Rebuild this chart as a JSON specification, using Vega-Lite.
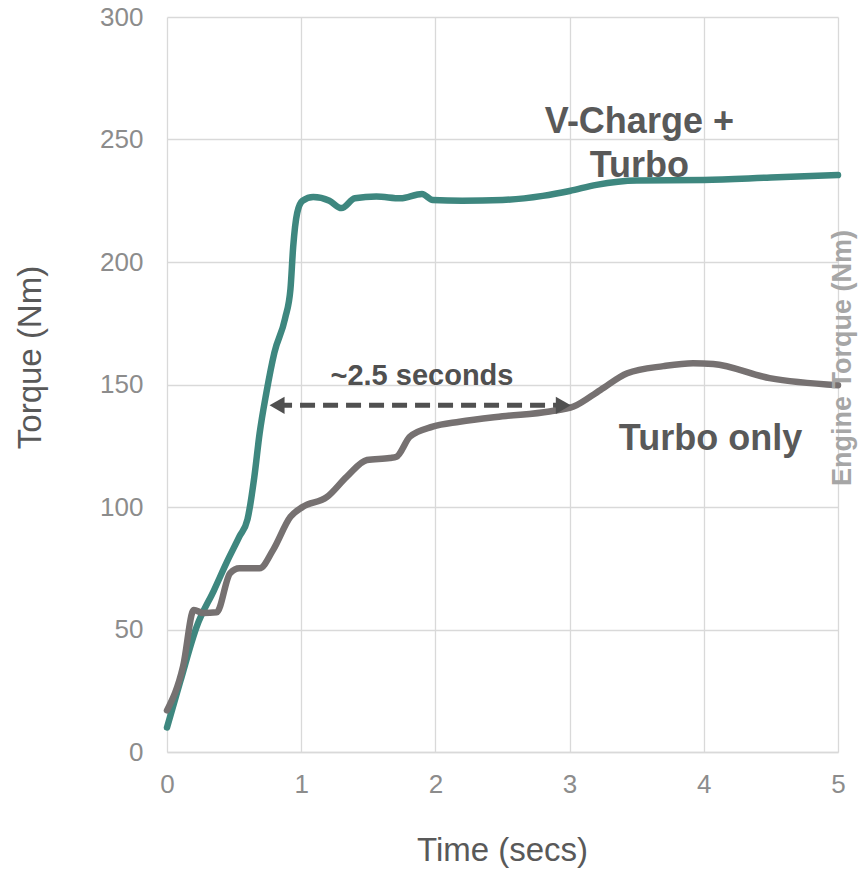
{
  "$schema": "https://vega.github.io/schema/vega-lite/v6.json",
  "width": 671,
  "height": 735,
  "autosize": {"type": "none"},
  "padding": {"left": 167, "top": 17, "right": 20, "bottom": 117},
  "config": {"view": {"stroke": null}, "font": "Liberation Sans"},
  "datasets": {
    "curves": [
      {"series": "V-Charge + Turbo", "t": 0, "v": 10},
      {"series": "V-Charge + Turbo", "t": 0.1, "v": 29},
      {"series": "V-Charge + Turbo", "t": 0.22, "v": 51},
      {"series": "V-Charge + Turbo", "t": 0.35, "v": 66},
      {"series": "V-Charge + Turbo", "t": 0.45, "v": 78},
      {"series": "V-Charge + Turbo", "t": 0.54, "v": 88},
      {"series": "V-Charge + Turbo", "t": 0.6, "v": 95},
      {"series": "V-Charge + Turbo", "t": 0.65, "v": 112},
      {"series": "V-Charge + Turbo", "t": 0.69, "v": 130},
      {"series": "V-Charge + Turbo", "t": 0.74, "v": 146.5},
      {"series": "V-Charge + Turbo", "t": 0.8, "v": 163},
      {"series": "V-Charge + Turbo", "t": 0.88, "v": 177},
      {"series": "V-Charge + Turbo", "t": 0.92, "v": 189},
      {"series": "V-Charge + Turbo", "t": 0.94, "v": 206},
      {"series": "V-Charge + Turbo", "t": 0.97, "v": 220},
      {"series": "V-Charge + Turbo", "t": 1.01, "v": 225},
      {"series": "V-Charge + Turbo", "t": 1.09, "v": 226.5},
      {"series": "V-Charge + Turbo", "t": 1.21, "v": 225},
      {"series": "V-Charge + Turbo", "t": 1.3, "v": 222},
      {"series": "V-Charge + Turbo", "t": 1.4, "v": 226},
      {"series": "V-Charge + Turbo", "t": 1.56, "v": 226.7},
      {"series": "V-Charge + Turbo", "t": 1.74, "v": 226},
      {"series": "V-Charge + Turbo", "t": 1.9, "v": 227.8},
      {"series": "V-Charge + Turbo", "t": 1.98, "v": 225.3},
      {"series": "V-Charge + Turbo", "t": 2.2, "v": 225},
      {"series": "V-Charge + Turbo", "t": 2.5, "v": 225.3},
      {"series": "V-Charge + Turbo", "t": 2.8, "v": 227},
      {"series": "V-Charge + Turbo", "t": 3.0, "v": 229},
      {"series": "V-Charge + Turbo", "t": 3.2, "v": 231.5},
      {"series": "V-Charge + Turbo", "t": 3.5, "v": 233.3},
      {"series": "V-Charge + Turbo", "t": 4.0, "v": 233.5},
      {"series": "V-Charge + Turbo", "t": 4.5, "v": 234.5},
      {"series": "V-Charge + Turbo", "t": 5.0, "v": 235.5},
      {"series": "Turbo only", "t": 0, "v": 17},
      {"series": "Turbo only", "t": 0.12, "v": 35},
      {"series": "Turbo only", "t": 0.2, "v": 58},
      {"series": "Turbo only", "t": 0.27, "v": 56.7},
      {"series": "Turbo only", "t": 0.37, "v": 57},
      {"series": "Turbo only", "t": 0.47, "v": 73},
      {"series": "Turbo only", "t": 0.54, "v": 75},
      {"series": "Turbo only", "t": 0.69, "v": 75},
      {"series": "Turbo only", "t": 0.79, "v": 82.4},
      {"series": "Turbo only", "t": 0.92, "v": 96},
      {"series": "Turbo only", "t": 1.01, "v": 100},
      {"series": "Turbo only", "t": 1.19, "v": 104},
      {"series": "Turbo only", "t": 1.34, "v": 112.4},
      {"series": "Turbo only", "t": 1.49, "v": 119.2},
      {"series": "Turbo only", "t": 1.66, "v": 120},
      {"series": "Turbo only", "t": 1.71, "v": 120.5},
      {"series": "Turbo only", "t": 1.81, "v": 128.7},
      {"series": "Turbo only", "t": 1.98, "v": 132.8},
      {"series": "Turbo only", "t": 2.18, "v": 134.8},
      {"series": "Turbo only", "t": 2.5, "v": 137},
      {"series": "Turbo only", "t": 2.85, "v": 139},
      {"series": "Turbo only", "t": 3.03, "v": 141},
      {"series": "Turbo only", "t": 3.23, "v": 147.8},
      {"series": "Turbo only", "t": 3.43, "v": 154.6},
      {"series": "Turbo only", "t": 3.7, "v": 157.5},
      {"series": "Turbo only", "t": 3.92, "v": 158.7},
      {"series": "Turbo only", "t": 4.07, "v": 158.4},
      {"series": "Turbo only", "t": 4.49, "v": 152.6},
      {"series": "Turbo only", "t": 5.0, "v": 149.7}
    ]
  },
  "layer": [
    {
      "data": {"name": "curves"},
      "mark": {"type": "line", "strokeWidth": 6.5, "interpolate": "monotone", "strokeCap": "round", "strokeJoin": "round"},
      "encoding": {
        "x": {
          "field": "t", "type": "quantitative",
          "scale": {"domain": [0, 5], "nice": false},
          "axis": {
            "values": [0, 1, 2, 3, 4, 5], "format": "d", "grid": true, "gridColor": "#d9d9d9", "gridWidth": 1.3,
            "domain": true, "domainColor": "#d9d9d9", "domainWidth": 1.3, "ticks": false,
            "labelFontSize": 26, "labelColor": "#8c8c8c", "labelPadding": 19, "labelFlush": false,
            "title": "Time (secs)", "titleFontSize": 33, "titleFontWeight": "normal", "titleColor": "#595959",
            "titleX": 335, "titleY": 98, "titleBaseline": "middle", "titleAnchor": "middle", "titleAlign": "center"
          }
        },
        "y": {
          "field": "v", "type": "quantitative",
          "scale": {"domain": [0, 300], "nice": false},
          "axis": {
            "values": [0, 50, 100, 150, 200, 250, 300], "grid": true, "gridColor": "#d9d9d9", "gridWidth": 1.3,
            "domain": false, "ticks": false,
            "labelFontSize": 26, "labelColor": "#8c8c8c", "labelPadding": 24,
            "title": "Torque (Nm)", "titleFontSize": 33, "titleFontWeight": "normal", "titleColor": "#595959",
            "titleX": -137, "titleY": 340, "titleAngle": 270, "titleBaseline": "middle", "titleAlign": "center"
          }
        },
        "color": {
          "field": "series", "type": "nominal",
          "scale": {"domain": ["V-Charge + Turbo", "Turbo only"], "range": ["#3e877f", "#767171"]},
          "legend": null
        },
        "order": {"field": "t", "type": "quantitative"},
        "detail": {"field": "series"}
      }
    },
    {
      "data": {"values": [{"x1": 0.82, "x2": 2.95, "y": 141.5}]},
      "mark": {"type": "rule", "strokeDash": [15, 8], "strokeWidth": 5, "color": "#505050"},
      "encoding": {
        "x": {"field": "x1", "type": "quantitative"},
        "x2": {"field": "x2"},
        "y": {"field": "y", "type": "quantitative"}
      }
    },
    {
      "data": {"values": [{"x": 0.82, "y": 141.5, "dir": "left"}, {"x": 2.953, "y": 141.5, "dir": "right"}]},
      "mark": {"type": "point", "filled": true, "size": 300, "opacity": 1, "color": "#505050"},
      "encoding": {
        "x": {"field": "x", "type": "quantitative"},
        "y": {"field": "y", "type": "quantitative"},
        "shape": {"field": "dir", "type": "nominal", "scale": {"domain": ["left", "right"], "range": ["triangle-left", "triangle-right"]}, "legend": null}
      }
    },
    {
      "data": {"values": [{"x": 1.9, "y": 149.8, "label": "~2.5 seconds"}]},
      "mark": {"type": "text", "fontSize": 29, "fontWeight": "bold", "color": "#505050", "align": "center", "baseline": "alphabetic"},
      "encoding": {
        "x": {"field": "x", "type": "quantitative"},
        "y": {"field": "y", "type": "quantitative"},
        "text": {"field": "label"}
      }
    },
    {
      "data": {"values": [{"x": 3.52, "y": 252.7}]},
      "mark": {"type": "text", "fontSize": 36, "fontWeight": "bold", "color": "#595959", "align": "center", "baseline": "alphabetic", "lineHeight": 44},
      "encoding": {
        "x": {"field": "x", "type": "quantitative"},
        "y": {"field": "y", "type": "quantitative"},
        "text": {"value": ["V-Charge +", "Turbo"]}
      }
    },
    {
      "data": {"values": [{"x": 4.05, "y": 123.3, "label": "Turbo only"}]},
      "mark": {"type": "text", "fontSize": 36, "fontWeight": "bold", "color": "#595959", "align": "center", "baseline": "alphabetic"},
      "encoding": {
        "x": {"field": "x", "type": "quantitative"},
        "y": {"field": "y", "type": "quantitative"},
        "text": {"field": "label"}
      }
    },
    {
      "data": {"values": [{"x": 5, "y": 160.8, "label": "Engine Torque (Nm)"}]},
      "mark": {"type": "text", "fontSize": 27, "fontWeight": "bold", "color": "#a6a6a6", "align": "center", "baseline": "alphabetic", "angle": 270, "dy": 13},
      "encoding": {
        "x": {"field": "x", "type": "quantitative"},
        "y": {"field": "y", "type": "quantitative"},
        "text": {"field": "label"}
      }
    }
  ]
}
